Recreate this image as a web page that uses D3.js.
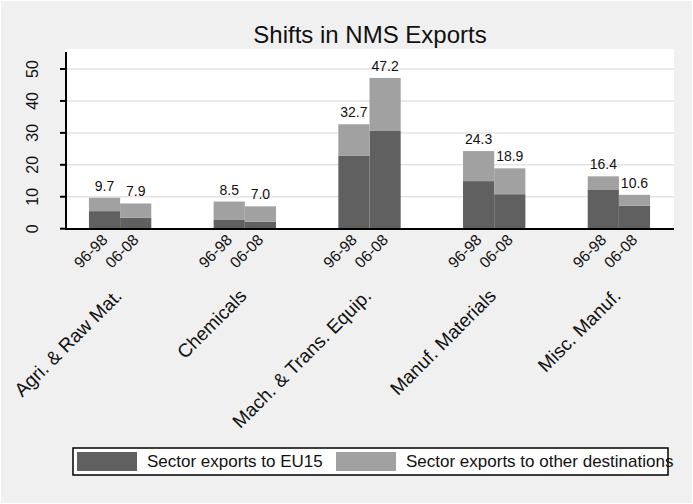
<!DOCTYPE html>
<html>
<head>
<meta charset="utf-8">
<script src="https://cdn.jsdelivr.net/npm/d3@7"></script>
<style>
  html, body { margin: 0; padding: 0; background: #ffffff; }
  svg { display: block; font-family: "Liberation Sans", Arial, sans-serif; }
</style>
</head>
<body>
<svg id="chart" width="693" height="504"></svg>
<script>
// ---- data ----
const categories = ["Agri. & Raw Mat.", "Chemicals", "Mach. & Trans. Equip.", "Manuf. Materials", "Misc. Manuf."];
const periods = ["96-98", "06-08"];
const seriesNames = ["Sector exports to EU15", "Sector exports to other destinations"];
// exports to EU15, per category: [96-98, 06-08]
const eu15 = [[5.5, 3.4], [2.9, 2.2], [22.8, 30.6], [14.9, 10.8], [12.3, 7.2]];
// exports to other destinations, per category: [96-98, 06-08]
const other = [[4.2, 4.5], [5.6, 4.8], [9.9, 16.6], [9.4, 8.1], [4.1, 3.4]];
const yTicks = [0, 10, 20, 30, 40, 50];
const chartTitle = "Shifts in NMS Exports";

// ---- layout ----
const W = 693, H = 504;
const plot = { left: 66, right: 674, top: 49, bottom: 229 };
const colors = ["#606060", "#a1a1a1"];

const svg = d3.select("#chart");

// outer background
svg.append("rect").attr("x", 1).attr("y", 1).attr("width", W - 2).attr("height", H - 2).attr("fill", "#f0f0f0");
// plot region
svg.append("rect").attr("x", plot.left - 1).attr("y", plot.top)
   .attr("width", plot.right - plot.left + 1).attr("height", plot.bottom - plot.top).attr("fill", "#ffffff");

// scales
const y = d3.scaleLinear().domain([0, 50]).range([228.7, 69]);
const x0 = d3.scaleBand().domain(categories).range([64, 675]).paddingInner(0.5).paddingOuter(0.2);
const x1 = d3.scaleBand().domain(periods).range([0, x0.bandwidth()]).padding(0);

// gridlines
svg.append("g").selectAll("line").data(yTicks.filter(d => d > 0)).join("line")
  .attr("x1", plot.left).attr("x2", plot.right)
  .attr("y1", d => y(d)).attr("y2", d => y(d))
  .attr("stroke", "#e3e3e3").attr("stroke-width", 1.5);

// rows
const rows = [];
categories.forEach((c, i) => periods.forEach((p, j) => {
  rows.push({ cat: c, period: p, eu15: eu15[i][j], other: other[i][j] });
}));
const stack = d3.stack().keys(["eu15", "other"]);
const stacked = stack(rows);

svg.append("g").selectAll("g").data(stacked).join("g")
  .attr("fill", (d, i) => colors[i])
  .selectAll("rect").data(d => d).join("rect")
  .attr("x", d => x0(d.data.cat) + x1(d.data.period))
  .attr("width", x1.bandwidth())
  .attr("y", d => y(d[1]))
  .attr("height", d => y(d[0]) - y(d[1]));

// value labels
const fmt = d3.format(".1f");
svg.append("g").selectAll("text").data(rows).join("text")
  .attr("x", d => x0(d.cat) + x1(d.period) + x1.bandwidth() / 2)
  .attr("y", d => y(d.eu15 + d.other) - 7)
  .attr("text-anchor", "middle")
  .attr("font-size", 14).attr("fill", "#111")
  .text(d => fmt(d.eu15 + d.other));

// y axis
const yAxis = svg.append("g");
yAxis.append("line").attr("x1", plot.left).attr("x2", plot.left)
  .attr("y1", 52).attr("y2", plot.bottom + 1).attr("stroke", "#000").attr("stroke-width", 2);
yAxis.selectAll("line.tick").data(yTicks).join("line").attr("class", "tick")
  .attr("x1", plot.left - 6).attr("x2", plot.left)
  .attr("y1", d => y(d)).attr("y2", d => y(d))
  .attr("stroke", "#000").attr("stroke-width", 2);
yAxis.selectAll("text").data(yTicks).join("text")
  .attr("transform", d => `translate(38,${y(d)}) rotate(-90)`)
  .attr("text-anchor", "middle").attr("font-size", 16).attr("fill", "#111")
  .text(d => d);

// x axis line
svg.append("line").attr("x1", plot.left - 1).attr("x2", plot.right)
  .attr("y1", plot.bottom).attr("y2", plot.bottom)
  .attr("stroke", "#000").attr("stroke-width", 2);

// period labels
svg.append("g").selectAll("text").data(rows).join("text")
  .attr("transform", d => `translate(${x0(d.cat) + x1(d.period) + x1.bandwidth() / 2 + 4},241) rotate(-45)`)
  .attr("text-anchor", "end").attr("font-size", 15.5).attr("fill", "#111")
  .text(d => d.period);

// category labels
svg.append("g").selectAll("text").data(categories).join("text")
  .attr("transform", d => `translate(${x0(d) + x0.bandwidth() / 2 + 3},297) rotate(-45)`)
  .attr("text-anchor", "end").attr("font-size", 19).attr("fill", "#111")
  .text(d => d);

// title
svg.append("text").attr("x", (plot.left + plot.right) / 2).attr("y", 43)
  .attr("text-anchor", "middle").attr("font-size", 24).attr("fill", "#111")
  .text(chartTitle);

// legend
const lg = svg.append("g");
lg.append("rect").attr("x", 73).attr("y", 448).attr("width", 595).attr("height", 27)
  .attr("fill", "#ffffff").attr("stroke", "#000").attr("stroke-width", 1.5);
const legendPos = [{ sx: 77, tx: 147 }, { sx: 336, tx: 406 }];
lg.selectAll("rect.sw").data(seriesNames).join("rect").attr("class", "sw")
  .attr("x", (d, i) => legendPos[i].sx).attr("y", 452).attr("width", 60).attr("height", 19)
  .attr("fill", (d, i) => colors[i]);
lg.selectAll("text").data(seriesNames).join("text")
  .attr("x", (d, i) => legendPos[i].tx).attr("y", 467)
  .attr("font-size", 17).attr("fill", "#111")
  .text(d => d);
</script>
</body>
</html>
